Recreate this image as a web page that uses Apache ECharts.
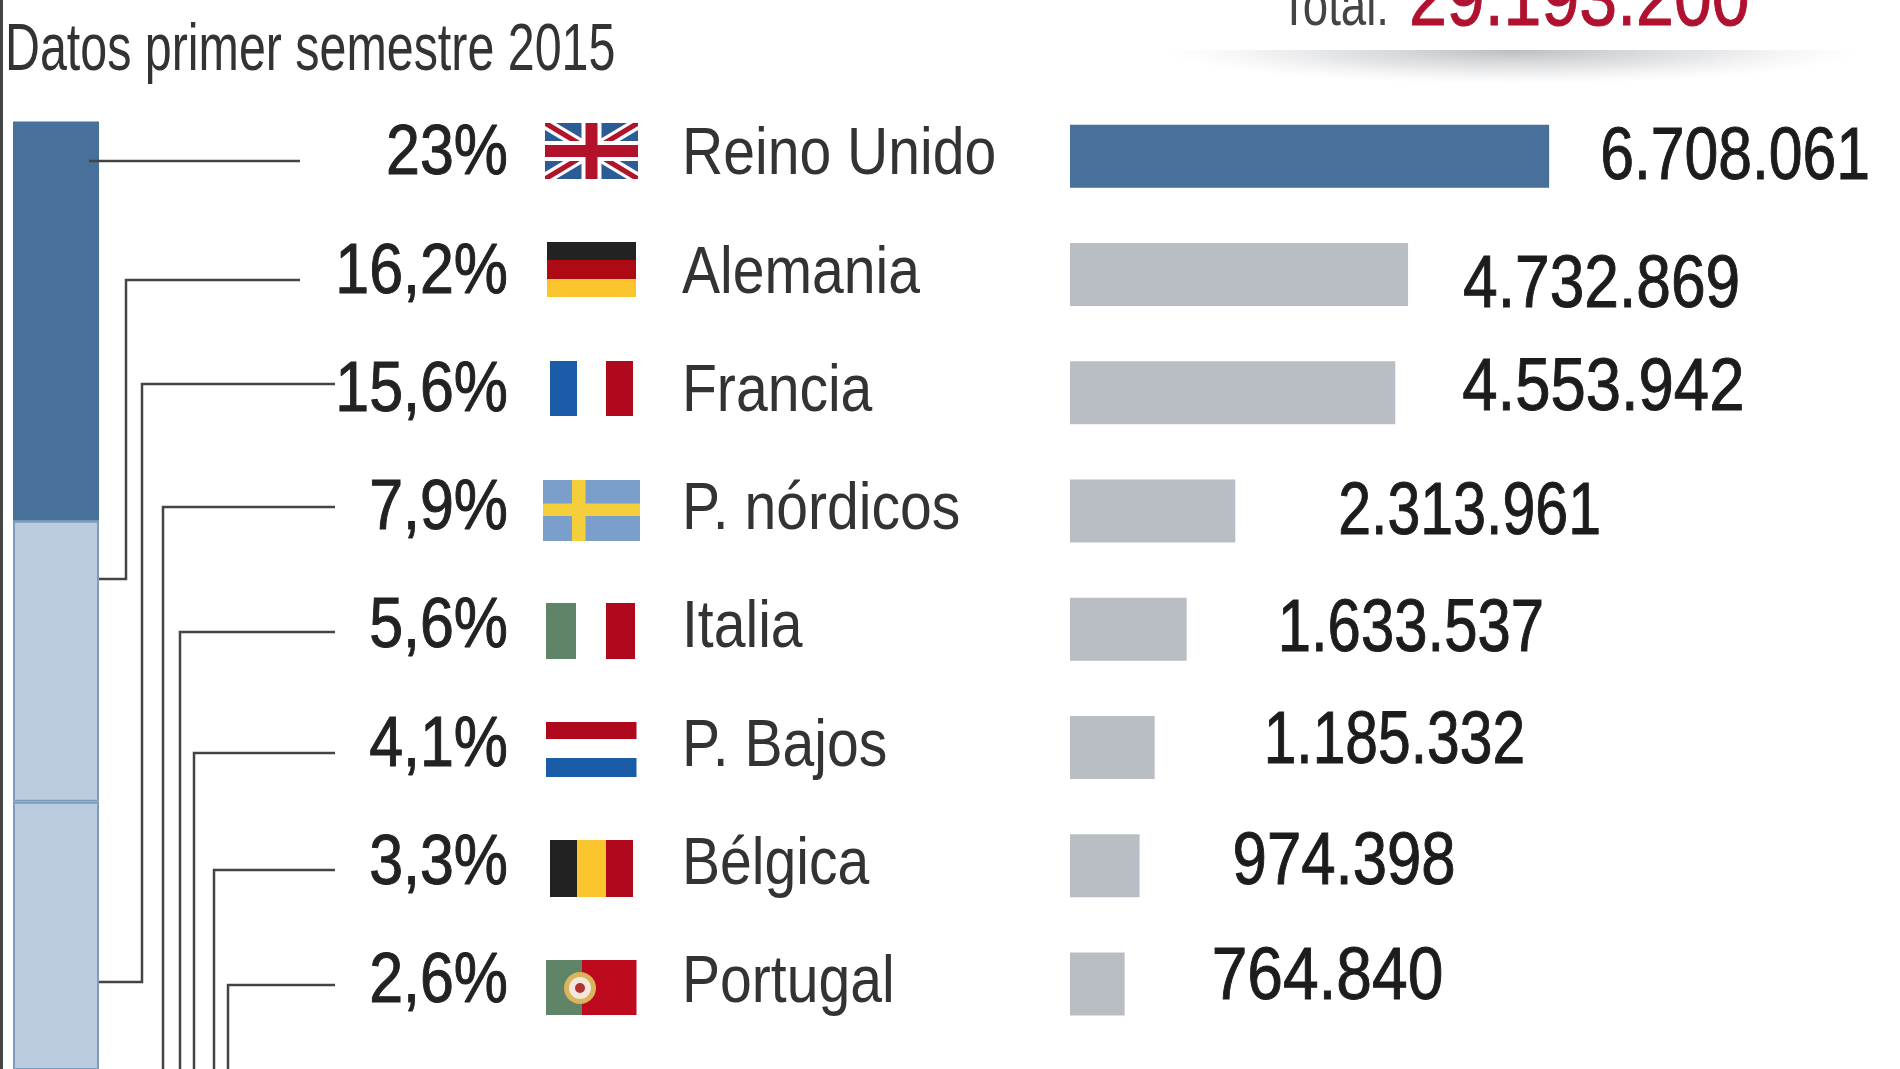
<!DOCTYPE html>
<html><head><meta charset="utf-8">
<style>html,body{margin:0;padding:0;background:#fff}#c{width:1900px;height:1069px}</style>
<script src="https://cdn.jsdelivr.net/npm/echarts@6/dist/echarts.min.js"></script>
</head><body><div id="c"></div>
<script>
const countries = ['Reino Unido','Alemania','Francia','P. nórdicos','Italia','P. Bajos','Bélgica','Portugal'];
const tourists  = [6708061,4732869,4553942,2313961,1633537,1185332,974398,764840];
const shares    = [23,16.2,15.6,7.9,5.6,4.1,3.3,2.6];
const subtitle  = 'Datos primer semestre 2015';
const totalCaption = 'Total:';
const totalValue   = '29.193.200';

// layout only: value label nudges [x, y] from the end of each bar, and horizontal squeeze
const valueNudges = [[51,2],[55,12],[67,-3],[103,3],[91,1],[109,-5],[93,-2],[87,-5]];
const valueSqueeze = [.82,.842,.857,.798,.809,.794,.834,.866];
// layout only: connector elbows [stub y on the column, riser x, row y, end x]
const connectors = [
  [null,89,161,300],[579,126,280,300],[982,142,384,335],[1069,163,507,335],
  [1069,180,632,335],[1069,194,753,335],[1069,214,870,335],[1069,228,985,335]
];

const FONT = '"Liberation Sans",sans-serif';
const DARK='#47709B', LIGHT='#BCCCE0', EDGE='#7F9BBD', GREY='#B9BEC4', LINE='#444';
const fmt = v => String(v).replace(/\B(?=(\d{3})+$)/g,'.');
const pct = v => String(v).replace('.',',')+'%';

function rect(x,y,w,h,fill){return {type:'rect',silent:true,shape:{x,y,width:w,height:h},style:{fill}};}
function poly(points,fill){return {type:'polygon',silent:true,shape:{points},style:{fill}};}
function ukFlag(x,y,w,h){
  const B='#2C5C96',W='#fff',R='#B3122B',g=[rect(x,y,w,h,B)];
  const diag=(d,e,c)=>{
    g.push(poly([[x,y],[x+d,y],[x+w,y+h-e],[x+w,y+h],[x+w-d,y+h],[x,y+e]],c));
    g.push(poly([[x+w,y],[x+w-d,y],[x,y+h-e],[x,y+h],[x+d,y+h],[x+w,y+e]],c));
  };
  diag(11,7,W); diag(5,3,R);
  g.push(rect(x+w/2-10,y,20,h,W),rect(x,y+h/2-10,w,20,W));
  g.push(rect(x+w/2-6,y,12,h,R),rect(x,y+h/2-6,w,12,R));
  return g;
}
function flags(){
  const R='#B0091E',G='#5F8468',BL='#1A5CA8',Y='#FBC52D',K='#222';
  const pt=[];
  pt.push(...ukFlag(545,123,93,56));
  pt.push(rect(547,242,89,18,K),rect(547,260,89,19,'#AE0A14'),rect(547,279,89,18,Y));
  pt.push(rect(550,361,27,55,BL),rect(606,361,27,55,R));
  pt.push(rect(543,480,97,61,'#7A9FCB'),rect(572,480,13.5,61,'#F5CE3C'),rect(543,503.5,97,12.5,'#F5CE3C'));
  pt.push(rect(546,603,30,56,G),rect(606,603,29,56,R));
  pt.push(rect(546,722,90.5,17,R),rect(546,758,90.5,19,BL));
  pt.push(rect(550,840,27,57,K),rect(577,840,29,57,Y),rect(606,840,27,57,R));
  pt.push(rect(546,960,36,55,G),rect(582,960,54.5,55,'#BE0A1E'));
  pt.push({type:'circle',silent:true,shape:{cx:580,cy:988,r:16},style:{fill:'#D9B45A'}});
  pt.push({type:'circle',silent:true,shape:{cx:580,cy:988,r:11},style:{fill:'#F3E6DA'}});
  pt.push({type:'circle',silent:true,shape:{cx:580,cy:988,r:5},style:{fill:'#B0342E'}});
  return pt;
}
function connectorLines(){
  return connectors.map(([stubY,x,y,endX])=>({
    type:'polyline',silent:true,z:20,
    shape:{points: stubY===null ? [[x,y],[endX,y]]
      : stubY===1069 ? [[x,1069],[x,y],[endX,y]] : [[99,stubY],[x,stubY],[x,y],[endX,y]]},
    style:{stroke:LINE,lineWidth:2.5,fill:null}
  }));
}
const shadow = {
  type:'sector',silent:true,x:1513,y:50,scaleX:3.48,scaleY:0.34,
  shape:{cx:0,cy:0,r0:0,r:100,startAngle:0,endAngle:Math.PI},
  style:{fill:{type:'radial',x:0,y:0,r:100,global:true,colorStops:[
    {offset:0,color:'rgba(130,134,140,.55)'},{offset:.55,color:'rgba(160,164,170,.28)'},{offset:1,color:'rgba(200,200,205,0)'}]}}
};
// condensed row text, placed from the bar scale's own coordinates
function rowText(id,texts,pxFromLeft,size,sx,color,align,dy,heavy){
  return {type:'custom',id,xAxisIndex:0,yAxisIndex:0,silent:true,z:10,clip:false,
    data:texts.map((t,i)=>[0,i,t]),
    renderItem:(p,api)=>{
      const c=api.coord([0,api.value(1)]);
      return {type:'text',x:c[0]+pxFromLeft,y:c[1]+dy,scaleX:sx,
        style:{text:texts[p.dataIndex],font:size+'px '+FONT,fill:color,align,verticalAlign:'middle',
          stroke:heavy?color:null,lineWidth:heavy}};
    }};
}
const valueLabels = {type:'custom',id:'values',xAxisIndex:0,yAxisIndex:0,silent:true,z:10,clip:false,
  data:tourists.map((v,i)=>[v,i]),
  renderItem:(p,api)=>{
    const c=api.coord([api.value(0),api.value(1)]),n=valueNudges[p.dataIndex];
    return {type:'text',x:c[0]+n[0],y:c[1]+n[1],scaleX:valueSqueeze[p.dataIndex],
      style:{text:fmt(api.value(0)),font:'74px '+FONT,fill:'#1c1c1c',stroke:'#1c1c1c',lineWidth:1,align:'left',verticalAlign:'middle'}};
  }};

const chart = echarts.init(document.getElementById('c'),null,{renderer:'canvas'});
chart.setOption({
  backgroundColor:'#fff',animation:false,
  grid:[
    {left:1070,top:97,width:500,height:946,outerBoundsMode:'none'},
    {left:13,top:121.5,width:86,bottom:0,outerBoundsMode:'none'}
  ],
  xAxis:[
    {gridIndex:0,type:'value',min:0,max:7000000,show:false},
    {gridIndex:1,type:'category',data:['Total'],show:false}
  ],
  yAxis:[
    {gridIndex:0,type:'category',inverse:true,data:countries,show:false},
    {gridIndex:1,type:'value',inverse:true,min:0,max:54.6,show:false}
  ],
  series:[
    {type:'bar',xAxisIndex:0,yAxisIndex:0,barWidth:63,silent:true,
      data:tourists.map((v,i)=>({value:v,itemStyle:{color:i===0?DARK:GREY}}))},
    valueLabels,
    rowText('names',countries,-388,66,.865,'#333','left',0,0),
    rowText('shares',shares.map(pct),-562,70,.87,'#222','right',-1,1),
    ...shares.map((v,i)=>({type:'bar',name:countries[i],stack:'share',xAxisIndex:1,yAxisIndex:1,
      barWidth:86,silent:true,data:[v],
      itemStyle:i===0?{color:DARK}:{color:LIGHT,borderColor:EDGE,borderWidth:2}}))
  ],
  graphic:[
    rect(0,0,3,1069,'#444'),
    {type:'text',silent:true,x:5,y:52,scaleX:.82,scaleY:1.12,style:{text:subtitle,font:'59px '+FONT,fill:'#333',verticalAlign:'middle'}},
    {type:'text',silent:true,x:1280,y:8,scaleX:.76,style:{text:totalCaption,font:'60px '+FONT,fill:'#444',verticalAlign:'middle'}},
    {type:'text',silent:true,x:1409,y:2,scaleX:.83,style:{text:totalValue,font:'82px '+FONT,fill:'#B0112F',stroke:'#B0112F',lineWidth:1,verticalAlign:'middle'}},
    shadow,
    ...connectorLines(),
    ...flags()
  ]
});
</script></body></html>
